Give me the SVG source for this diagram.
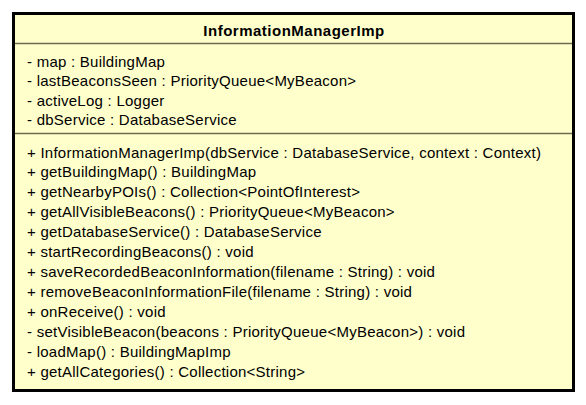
<svg xmlns="http://www.w3.org/2000/svg" width="586" height="405" viewBox="0 0 586 405">
<style>
.box{fill:#FFFFCC;stroke:#000;stroke-width:3}
.sep{stroke:#6b6b50;stroke-width:1.5}
.t{font-family:"Liberation Sans",Arial,sans-serif;font-size:15px;letter-spacing:0.25px;fill:#000}
.title{font-family:"Liberation Sans",Arial,sans-serif;font-size:15px;letter-spacing:0.5px;font-weight:bold;fill:#000;text-anchor:middle}
</style>
<g id="InformationManagerImp">
<rect class="box" x="13.5" y="13.5" width="560" height="377"/>
<text class="title" x="294" y="36">InformationManagerImp</text>
<line class="sep" x1="15" y1="43.5" x2="572" y2="43.5"/>
<text class="t" x="27" y="67">- map : BuildingMap</text>
<text class="t" x="27" y="86">- lastBeaconsSeen : PriorityQueue&lt;MyBeacon&gt;</text>
<text class="t" x="27" y="106">- activeLog : Logger</text>
<text class="t" x="27" y="125">- dbService : DatabaseService</text>
<line class="sep" x1="15" y1="133.5" x2="572" y2="133.5"/>
<text class="t" x="27" y="158">+ InformationManagerImp(dbService : DatabaseService, context : Context)</text>
<text class="t" x="27" y="177">+ getBuildingMap() : BuildingMap</text>
<text class="t" x="27" y="197">+ getNearbyPOIs() : Collection&lt;PointOfInterest&gt;</text>
<text class="t" x="27" y="217">+ getAllVisibleBeacons() : PriorityQueue&lt;MyBeacon&gt;</text>
<text class="t" x="27" y="237">+ getDatabaseService() : DatabaseService</text>
<text class="t" x="27" y="257">+ startRecordingBeacons() : void</text>
<text class="t" x="27" y="277">+ saveRecordedBeaconInformation(filename : String) : void</text>
<text class="t" x="27" y="297">+ removeBeaconInformationFile(filename : String) : void</text>
<text class="t" x="27" y="317">+ onReceive() : void</text>
<text class="t" x="27" y="337">- setVisibleBeacon(beacons : PriorityQueue&lt;MyBeacon&gt;) : void</text>
<text class="t" x="27" y="357">- loadMap() : BuildingMapImp</text>
<text class="t" x="27" y="377">+ getAllCategories() : Collection&lt;String&gt;</text>
</g>
<g id="connectors"/>
</svg>
